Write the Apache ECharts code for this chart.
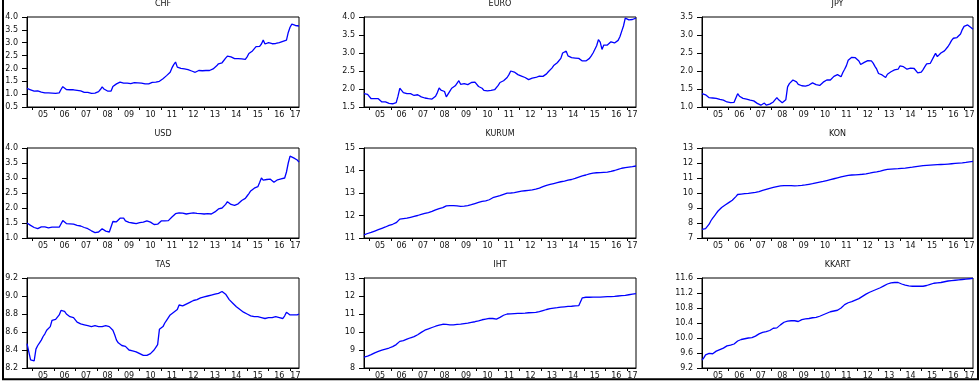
<!DOCTYPE html>
<html>
<head>
<meta charset="utf-8">
<script src="https://cdn.jsdelivr.net/npm/echarts@6/dist/echarts.min.js"></script>
<style>
html, body { margin: 0; padding: 0; background: #fff; }
#chart { width: 979px; height: 384px; }
</style>
</head>
<body>
<div id="chart"></div>
<script>
// Monthly sample: 2004M10 .. 2017M06
const startYear = 2004, startMonth = 10, endYear = 2017, endMonth = 6;
const months = [];
for (let y = startYear, m = startMonth; y < endYear || (y === endYear && m <= endMonth);) {
  months.push(y + '-' + String(m).padStart(2, '0'));
  m++; if (m > 12) { m = 1; y++; }
}

// Series values, one row per calendar year
const chf = [
  1.22, 1.21, 1.17,
  1.12, 1.12, 1.13, 1.13, 1.13, 1.08, 1.05, 1.05, 1.05, 1.05, 1.04, 1.04,
  1.04, 1.03, 1.02, 1.05, 1.18, 1.29, 1.22, 1.18, 1.18, 1.17, 1.17, 1.17,
  1.17, 1.15, 1.14, 1.13, 1.10, 1.07, 1.06, 1.07, 1.05, 1.03, 1.02, 1.04,
  1.04, 1.10, 1.18, 1.28, 1.20, 1.15, 1.12, 1.10, 1.12, 1.30, 1.35, 1.40,
  1.43, 1.47, 1.44, 1.43, 1.42, 1.43, 1.42, 1.41, 1.43, 1.45, 1.46, 1.44,
  1.43, 1.43, 1.42, 1.40, 1.38, 1.40, 1.44, 1.46, 1.48, 1.47, 1.48, 1.50,
  1.52, 1.60, 1.65, 1.72, 1.75, 1.85, 2.02, 2.15, 2.25, 2.05, 2.02, 2.00,
  2.00, 1.98, 1.96, 1.95, 1.94, 1.90, 1.87, 1.85, 1.90, 1.92, 1.92, 1.91,
  1.92, 1.92, 1.91, 1.92, 1.93, 1.98, 2.05, 2.10, 2.18, 2.20, 2.22, 2.28,
  2.40, 2.48, 2.52, 2.45, 2.38, 2.38, 2.38, 2.38, 2.39, 2.37, 2.35, 2.35,
  2.45, 2.58, 2.63, 2.68, 2.75, 2.85, 2.90, 2.86, 2.95, 3.10, 2.95, 2.88,
  3.00, 2.98, 2.96, 2.95, 2.97, 3.00, 3.00, 3.02, 3.05, 3.08, 3.10, 3.40,
  3.60, 3.72, 3.68, 3.67, 3.66, 3.65
];
const euro = [
  1.87, 1.86, 1.85,
  1.80, 1.73, 1.71, 1.73, 1.76, 1.73, 1.68, 1.64, 1.66, 1.64, 1.61, 1.60,
  1.59, 1.59, 1.60, 1.62, 1.80, 2.02, 1.96, 1.90, 1.88, 1.87, 1.87, 1.87,
  1.85, 1.82, 1.84, 1.84, 1.80, 1.78, 1.76, 1.75, 1.77, 1.73, 1.71, 1.72,
  1.73, 1.80, 1.90, 2.03, 1.97, 1.94, 1.93, 1.78, 1.79, 1.94, 2.02, 2.07,
  2.09, 2.12, 2.23, 2.13, 2.13, 2.15, 2.14, 2.12, 2.15, 2.18, 2.20, 2.19,
  2.15, 2.07, 2.05, 2.02, 1.96, 1.94, 1.95, 1.96, 1.96, 1.97, 1.98, 2.02,
  2.10, 2.18, 2.22, 2.23, 2.27, 2.32, 2.40, 2.50, 2.49, 2.47, 2.47, 2.40,
  2.35, 2.36, 2.35, 2.32, 2.30, 2.26, 2.24, 2.30, 2.33, 2.32, 2.33, 2.36,
  2.35, 2.35, 2.36, 2.42, 2.48, 2.52, 2.58, 2.65, 2.70, 2.73, 2.76, 2.85,
  3.00, 3.03, 3.05, 2.92, 2.87, 2.87, 2.87, 2.86, 2.86, 2.85, 2.83, 2.78,
  2.73, 2.78, 2.80, 2.85, 2.92, 3.00, 3.00, 3.20, 3.37, 3.30, 3.10, 3.22,
  3.25, 3.22, 3.24, 3.31, 3.28, 3.28, 3.32, 3.35, 3.45, 3.60, 3.75, 3.97,
  3.92, 3.92, 3.92, 3.93, 3.95, 3.97
];
const jpy = [
  1.37, 1.36, 1.34,
  1.30, 1.26, 1.24, 1.25, 1.28, 1.24, 1.22, 1.21, 1.21, 1.19, 1.16, 1.14,
  1.13, 1.12, 1.12, 1.13, 1.15, 1.37, 1.30, 1.27, 1.24, 1.23, 1.22, 1.21,
  1.19, 1.16, 1.17, 1.19, 1.10, 1.07, 1.05, 1.08, 1.11, 1.05, 1.06, 1.08,
  1.09, 1.14, 1.19, 1.26, 1.20, 1.16, 1.12, 1.09, 1.20, 1.56, 1.65, 1.70,
  1.75, 1.78, 1.70, 1.63, 1.60, 1.59, 1.59, 1.58, 1.58, 1.61, 1.64, 1.67,
  1.62, 1.62, 1.65, 1.60, 1.64, 1.69, 1.72, 1.75, 1.75, 1.75, 1.76, 1.85,
  1.89, 1.90, 1.86, 1.84, 1.96, 2.05, 2.15, 2.30, 2.35, 2.38, 2.33, 2.37,
  2.38, 2.28, 2.18, 2.20, 2.24, 2.27, 2.29, 2.29, 2.28, 2.22, 2.13, 2.05,
  1.93, 1.90, 1.89, 1.84, 1.82, 1.91, 1.94, 1.98, 2.01, 2.03, 2.02, 2.05,
  2.14, 2.17, 2.12, 2.07, 2.05, 2.06, 2.08, 2.09, 2.07, 2.06, 1.95, 1.92,
  1.97, 2.04, 2.12, 2.20, 2.21, 2.21, 2.22, 2.40, 2.49, 2.40, 2.35, 2.50,
  2.54, 2.56, 2.58, 2.68, 2.76, 2.85, 2.91, 2.92, 2.93, 2.98, 3.03, 3.15,
  3.24, 3.25, 3.28, 3.30, 3.20, 3.16
];
const usd = [
  1.50, 1.46, 1.42,
  1.39, 1.35, 1.32, 1.31, 1.35, 1.37, 1.38, 1.37, 1.35, 1.34, 1.35, 1.36,
  1.37, 1.36, 1.35, 1.36, 1.36, 1.58, 1.55, 1.48, 1.48, 1.47, 1.47, 1.46,
  1.43, 1.42, 1.41, 1.40, 1.38, 1.35, 1.32, 1.31, 1.29, 1.24, 1.20, 1.18,
  1.18, 1.20, 1.25, 1.31, 1.27, 1.23, 1.21, 1.20, 1.22, 1.55, 1.58, 1.54,
  1.60, 1.66, 1.72, 1.66, 1.57, 1.54, 1.52, 1.51, 1.50, 1.49, 1.48, 1.49,
  1.51, 1.50, 1.53, 1.54, 1.57, 1.55, 1.53, 1.49, 1.45, 1.43, 1.46, 1.52,
  1.57, 1.59, 1.57, 1.54, 1.58, 1.62, 1.70, 1.76, 1.81, 1.83, 1.84, 1.86,
  1.83, 1.77, 1.80, 1.81, 1.82, 1.83, 1.84, 1.83, 1.82, 1.82, 1.81, 1.81,
  1.80, 1.81, 1.81, 1.80, 1.80, 1.83, 1.87, 1.93, 1.97, 2.00, 2.00, 2.02,
  2.12, 2.21, 2.20, 2.12, 2.09, 2.09, 2.11, 2.14, 2.19, 2.25, 2.28, 2.32,
  2.40, 2.48, 2.57, 2.62, 2.66, 2.68, 2.71, 2.85, 3.00, 2.93, 2.88, 2.95,
  3.00, 2.96, 2.91, 2.86, 2.90, 2.94, 2.96, 2.97, 2.98, 3.00, 3.20, 3.50,
  3.73, 3.69, 3.67, 3.64, 3.60, 3.53
];
const kurum = [
  11.14, 11.17, 11.20,
  11.22, 11.25, 11.28, 11.31, 11.34, 11.37, 11.40, 11.43, 11.46, 11.49, 11.52, 11.56,
  11.58, 11.61, 11.64, 11.68, 11.75, 11.84, 11.85, 11.86, 11.87, 11.88, 11.90, 11.92,
  11.94, 11.96, 11.98, 12.00, 12.03, 12.05, 12.07, 12.09, 12.11, 12.13, 12.15, 12.18,
  12.21, 12.25, 12.29, 12.31, 12.33, 12.35, 12.37, 12.43, 12.44, 12.44, 12.44, 12.44,
  12.44, 12.43, 12.42, 12.41, 12.41, 12.42, 12.43, 12.44, 12.46, 12.48, 12.50, 12.53,
  12.55, 12.58, 12.61, 12.63, 12.64, 12.65, 12.67, 12.70, 12.74, 12.79, 12.82, 12.84,
  12.86, 12.88, 12.90, 12.94, 12.97, 12.99, 13.00, 13.00, 13.01, 13.02, 13.03, 13.05,
  13.06, 13.08, 13.09, 13.10, 13.11, 13.12, 13.13, 13.14, 13.15, 13.17, 13.19, 13.22,
  13.25, 13.28, 13.31, 13.34, 13.36, 13.38, 13.40, 13.42, 13.44, 13.46, 13.48, 13.50,
  13.51, 13.53, 13.55, 13.57, 13.58, 13.60, 13.62, 13.65, 13.68, 13.71, 13.73, 13.76,
  13.78, 13.80, 13.83, 13.85, 13.87, 13.88, 13.89, 13.90, 13.90, 13.91, 13.91, 13.92,
  13.92, 13.93, 13.94, 13.96, 13.98, 14.00, 14.03, 14.05, 14.08, 14.10, 14.12, 14.13,
  14.14, 14.15, 14.16, 14.17, 14.19, 14.20
];
const kon = [
  7.58, 7.60, 7.63,
  7.75, 7.92, 8.15, 8.32, 8.48, 8.64, 8.80, 8.92, 9.03, 9.12, 9.20, 9.29,
  9.36, 9.43, 9.52, 9.63, 9.76, 9.90, 9.92, 9.93, 9.94, 9.96, 9.97, 9.98,
  10.00, 10.01, 10.02, 10.04, 10.06, 10.09, 10.13, 10.17, 10.21, 10.24, 10.27, 10.31,
  10.34, 10.37, 10.40, 10.43, 10.46, 10.47, 10.48, 10.49, 10.49, 10.49, 10.49, 10.49,
  10.48, 10.48, 10.49, 10.49, 10.50, 10.51, 10.52, 10.54, 10.56, 10.58, 10.60, 10.62,
  10.64, 10.67, 10.69, 10.72, 10.74, 10.77, 10.80, 10.83, 10.86, 10.89, 10.92, 10.95,
  10.98, 11.01, 11.04, 11.07, 11.10, 11.13, 11.16, 11.18, 11.19, 11.20, 11.20, 11.21,
  11.22, 11.23, 11.24, 11.25, 11.27, 11.28, 11.30, 11.32, 11.34, 11.37, 11.39, 11.41,
  11.43, 11.46, 11.49, 11.52, 11.55, 11.57, 11.58, 11.59, 11.60, 11.61, 11.62, 11.62,
  11.63, 11.64, 11.65, 11.66, 11.67, 11.69, 11.70, 11.72, 11.74, 11.76, 11.78, 11.79,
  11.81, 11.82, 11.83, 11.84, 11.85, 11.86, 11.87, 11.88, 11.89, 11.89, 11.90, 11.90,
  11.91, 11.91, 11.92, 11.93, 11.94, 11.95, 11.96, 11.97, 11.98, 11.99, 12.00, 12.01,
  12.02, 12.04, 12.06, 12.08, 12.10, 12.11
];
const tas = [
  8.47, 8.46, 8.29,
  8.28, 8.28, 8.41, 8.45, 8.48, 8.51, 8.55, 8.58, 8.62, 8.64, 8.66, 8.73,
  8.74, 8.74, 8.76, 8.79, 8.84, 8.85, 8.83, 8.80, 8.78, 8.77, 8.77, 8.76,
  8.74, 8.71, 8.70, 8.69, 8.68, 8.68, 8.67, 8.67, 8.66, 8.66, 8.68, 8.67,
  8.66, 8.66, 8.66, 8.66, 8.66, 8.67, 8.67, 8.66, 8.66, 8.62, 8.57, 8.51,
  8.48, 8.46, 8.45, 8.45, 8.44, 8.42, 8.40, 8.40, 8.39, 8.39, 8.38, 8.37,
  8.36, 8.35, 8.34, 8.34, 8.34, 8.35, 8.36, 8.38, 8.40, 8.43, 8.46, 8.63,
  8.64, 8.66, 8.70, 8.73, 8.76, 8.79, 8.80, 8.82, 8.83, 8.85, 8.90, 8.89,
  8.89, 8.90, 8.91, 8.92, 8.93, 8.94, 8.95, 8.96, 8.96, 8.97, 8.98, 8.99,
  8.99, 9.00, 9.00, 9.01, 9.01, 9.01, 9.02, 9.03, 9.03, 9.04, 9.05, 9.04,
  9.02, 8.99, 8.96, 8.94, 8.92, 8.90, 8.88, 8.87, 8.85, 8.83, 8.82, 8.81,
  8.80, 8.79, 8.78, 8.77, 8.77, 8.77, 8.77, 8.77, 8.76, 8.76, 8.75, 8.77,
  8.76, 8.76, 8.76, 8.77, 8.77, 8.76, 8.76, 8.76, 8.75, 8.78, 8.82, 8.80,
  8.79, 8.79, 8.79, 8.79, 8.79, 8.80
];
const iht = [
  8.61, 8.63, 8.66,
  8.69, 8.74, 8.79, 8.84, 8.88, 8.92, 8.96, 8.99, 9.02, 9.05, 9.08, 9.11,
  9.15, 9.19, 9.23, 9.30, 9.40, 9.48, 9.50, 9.52, 9.55, 9.60, 9.64, 9.68,
  9.71, 9.74, 9.78, 9.85, 9.92, 9.98, 10.04, 10.10, 10.14, 10.17, 10.21, 10.25,
  10.29, 10.32, 10.35, 10.38, 10.41, 10.43, 10.43, 10.42, 10.41, 10.40, 10.39, 10.40,
  10.41, 10.42, 10.43, 10.44, 10.46, 10.47, 10.48, 10.49, 10.51, 10.53, 10.55, 10.57,
  10.59, 10.62, 10.65, 10.68, 10.70, 10.72, 10.74, 10.76, 10.76, 10.75, 10.73, 10.72,
  10.76, 10.81, 10.87, 10.93, 10.98, 11.00, 11.00, 11.01, 11.01, 11.02, 11.02, 11.03,
  11.03, 11.04, 11.05, 11.05, 11.06, 11.07, 11.07, 11.08, 11.09, 11.09, 11.10, 11.13,
  11.16, 11.19, 11.22, 11.25, 11.28, 11.30, 11.32, 11.33, 11.34, 11.35, 11.37, 11.38,
  11.39, 11.40, 11.41, 11.42, 11.43, 11.43, 11.44, 11.45, 11.45, 11.46, 11.46, 11.90,
  11.92, 11.93, 11.93, 11.93, 11.94, 11.94, 11.94, 11.94, 11.94, 11.94, 11.95, 11.95,
  11.95, 11.96, 11.96, 11.97, 11.97, 11.98, 11.99, 12.00, 12.01, 12.02, 12.03, 12.04,
  12.05, 12.07, 12.08, 12.10, 12.11, 12.13
];
const kkart = [
  9.41, 9.47, 9.55,
  9.57, 9.59, 9.59, 9.58, 9.62, 9.65, 9.67, 9.69, 9.71, 9.73, 9.75, 9.79,
  9.80, 9.81, 9.82, 9.84, 9.88, 9.92, 9.95, 9.96, 9.97, 9.98, 9.99, 10.00,
  10.01, 10.01, 10.03, 10.05, 10.08, 10.11, 10.13, 10.15, 10.16, 10.17, 10.18, 10.20,
  10.24, 10.26, 10.27, 10.27, 10.30, 10.35, 10.39, 10.42, 10.44, 10.45, 10.45, 10.46,
  10.47, 10.46, 10.45, 10.44, 10.46, 10.49, 10.50, 10.51, 10.52, 10.52, 10.53, 10.54,
  10.54, 10.55, 10.56, 10.58, 10.60, 10.62, 10.64, 10.66, 10.68, 10.70, 10.71, 10.72,
  10.73, 10.74, 10.76, 10.80, 10.84, 10.89, 10.92, 10.94, 10.96, 10.97, 10.99, 11.01,
  11.02, 11.05, 11.08, 11.11, 11.14, 11.17, 11.19, 11.22, 11.24, 11.26, 11.28, 11.30,
  11.32, 11.34, 11.36, 11.39, 11.42, 11.44, 11.46, 11.47, 11.47, 11.48, 11.48, 11.48,
  11.47, 11.44, 11.42, 11.41, 11.40, 11.39, 11.38, 11.38, 11.38, 11.38, 11.38, 11.38,
  11.38, 11.38, 11.39, 11.40, 11.42, 11.43, 11.45, 11.46, 11.46, 11.47, 11.47, 11.48,
  11.49, 11.50, 11.51, 11.52, 11.52, 11.53, 11.53, 11.54, 11.55, 11.55, 11.56, 11.56,
  11.56, 11.57, 11.57, 11.58, 11.58, 11.59
];

// Panel definitions: title, values, y range and step
const panels = [
  { name: 'CHF',   data: chf,   min: 0.5, max: 4.0,  step: 0.5, dec: 1 },
  { name: 'EURO',  data: euro,  min: 1.5, max: 4.0,  step: 0.5, dec: 1 },
  { name: 'JPY',   data: jpy,   min: 1.0, max: 3.5,  step: 0.5, dec: 1 },
  { name: 'USD',   data: usd,   min: 1.0, max: 4.0,  step: 0.5, dec: 1 },
  { name: 'KURUM', data: kurum, min: 11,  max: 15,   step: 1,   dec: 0 },
  { name: 'KON',   data: kon,   min: 7,   max: 13,   step: 1,   dec: 0 },
  { name: 'TAS',   data: tas,   min: 8.2, max: 9.2,  step: 0.2, dec: 1 },
  { name: 'IHT',   data: iht,   min: 8,   max: 13,   step: 1,   dec: 0 },
  { name: 'KKART', data: kkart, min: 9.2, max: 11.6, step: 0.4, dec: 1 }
];

// Layout of the 3x3 panel grid
const colLeft = [27, 364, 702];
const colWidth = [272, 272, 271];
const rowTop = [17, 148, 278];
const plotHeight = 90;
const titleY = [4, 134, 265];

const FONT = '"DejaVu Sans", Verdana, sans-serif';
const INK = '#111';

// Year labels sit in the middle of each year; the last, partial year gets
// its label in the middle of the months it covers.
const lastJan = months.indexOf(endYear + '-01');
const lastLabelIdx = lastJan + Math.round((endMonth - 1) / 2);
const isYearStart = (i, v) => v.slice(5) === '01';
const isYearLabel = (i, v) => v.slice(5) === '07' || i === lastLabelIdx;

const grids = [], xAxes = [], yAxes = [], series = [], graphics = [];
panels.forEach((p, k) => {
  const r = Math.floor(k / 3), c = k % 3;
  grids.push({
    left: colLeft[c], top: rowTop[r], width: colWidth[c], height: plotHeight,
    show: true, borderColor: '#000', borderWidth: 1, backgroundColor: '#fff'
  });
  xAxes.push({
    type: 'category', gridIndex: k, data: months, boundaryGap: false,
    axisLine: { show: true, lineStyle: { color: '#000', width: 1 } },
    axisTick: { show: true, interval: isYearStart, length: 3, inside: false,
                lineStyle: { color: '#000', width: 1 } },
    axisLabel: { interval: isYearLabel, formatter: v => v.slice(2, 4),
                 fontFamily: FONT, fontSize: 8, color: INK, margin: 4 },
    splitLine: { show: false }
  });
  yAxes.push({
    type: 'value', gridIndex: k, min: p.min, max: p.max, interval: p.step,
    axisLine: { show: true, lineStyle: { color: '#000', width: 1 } },
    axisTick: { show: true, length: 5, lineStyle: { color: '#000', width: 1 } },
    axisLabel: { formatter: v => v.toFixed(p.dec), fontFamily: FONT, fontSize: 8,
                 color: INK, margin: 9 },
    splitLine: { show: false }
  });
  series.push({
    name: p.name, type: 'line', xAxisIndex: k, yAxisIndex: k, data: p.data,
    showSymbol: false, symbol: 'none', smooth: false,
    lineStyle: { color: '#0000ff', width: 1.3 }
  });
  graphics.push({
    type: 'text', x: colLeft[c] + colWidth[c] / 2, y: titleY[r], z: 10,
    style: { text: p.name, fill: INK, font: '8px ' + FONT,
             align: 'center', verticalAlign: 'middle',
             textAlign: 'center', textVerticalAlign: 'middle' }
  });
});

// Outer frame around the whole figure
graphics.push({
  type: 'rect', z: 100, silent: true,
  shape: { x: 3, y: -10, width: 975, height: 389.3 },
  style: { fill: 'none', stroke: '#000', lineWidth: 2 }
});

const chart = echarts.init(document.getElementById('chart'), null, { renderer: 'canvas' });
chart.setOption({
  animation: false,
  backgroundColor: '#fff',
  grid: grids,
  xAxis: xAxes,
  yAxis: yAxes,
  series: series,
  graphic: graphics
});
</script>
</body>
</html>
